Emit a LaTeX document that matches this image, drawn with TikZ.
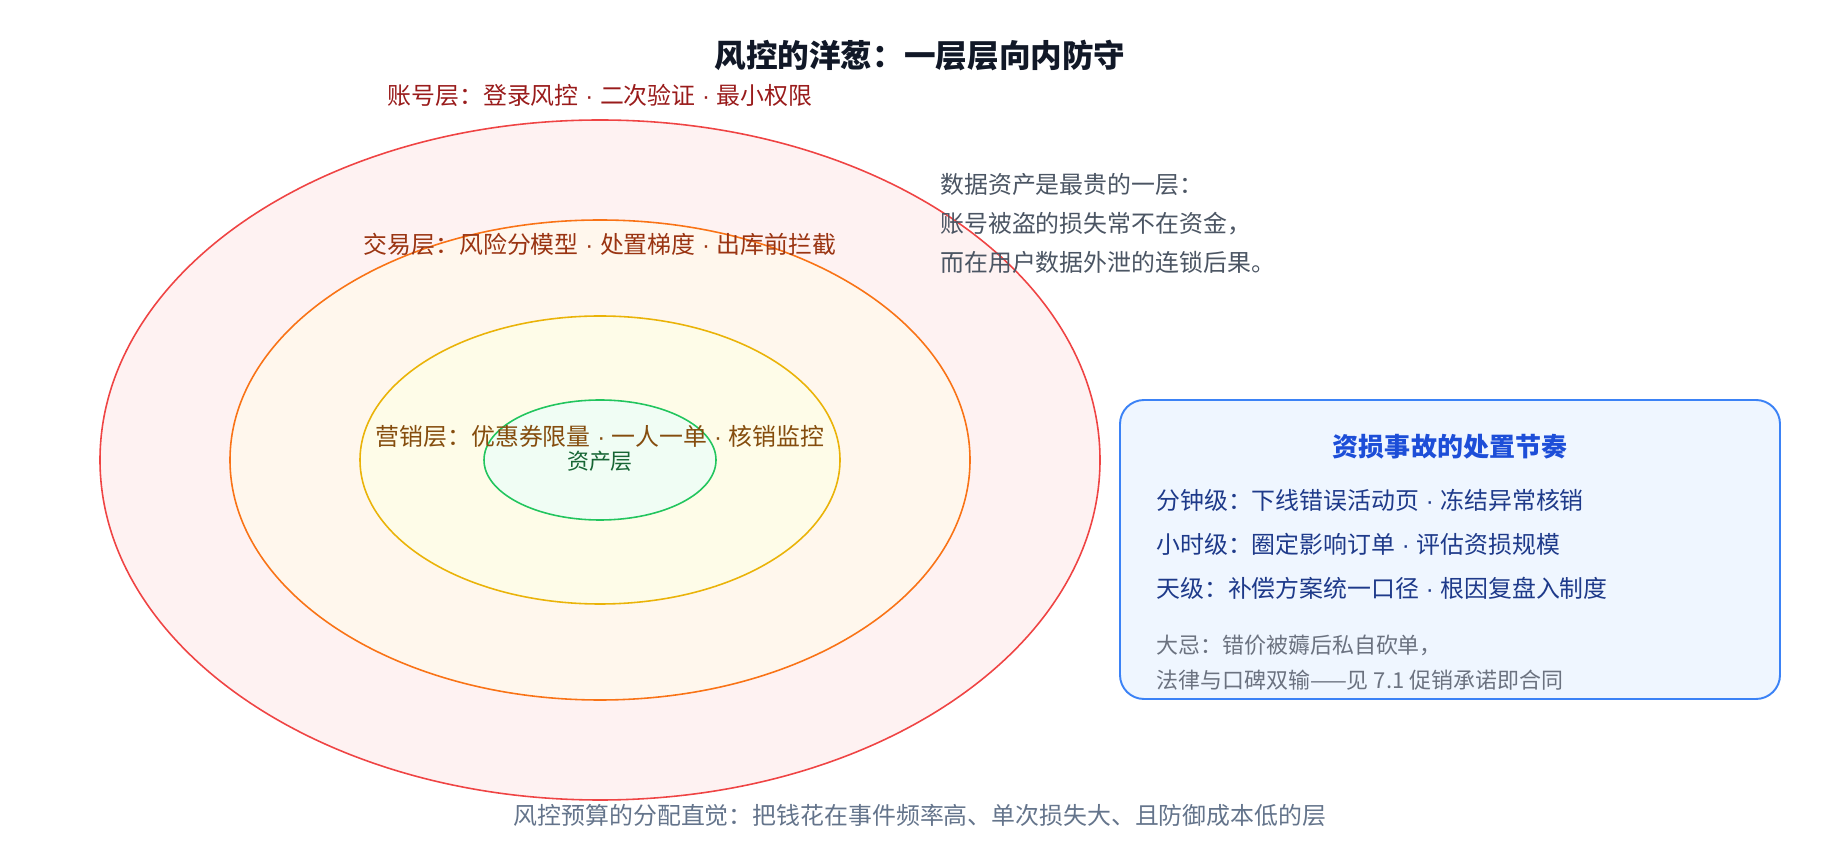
\documentclass[tikz,border=0pt]{standalone}
\usepackage{fontspec}
\setmainfont{Noto Sans CJK SC}
\newfontfamily\latinfont{Liberation Sans}
\usepackage{xcolor}
\usetikzlibrary{shapes.geometric, positioning}
\newcommand{\dotsep}{{\latinfont{} · }}
\definecolor{accountline}{HTML}{EF4444}
\definecolor{accountbg}{HTML}{FEF2F2}
\definecolor{accounttext}{HTML}{991B1B}
\definecolor{tradeline}{HTML}{F97316}
\definecolor{tradebg}{HTML}{FFF7ED}
\definecolor{tradetext}{HTML}{9A3412}
\definecolor{promoline}{HTML}{EAB308}
\definecolor{promobg}{HTML}{FEFCE8}
\definecolor{promotext}{HTML}{854D0E}
\definecolor{assetline}{HTML}{22C55E}
\definecolor{assetbg}{HTML}{F0FDF4}
\definecolor{assettext}{HTML}{166534}
\definecolor{boxline}{HTML}{3B82F6}
\definecolor{boxbg}{HTML}{EFF6FF}
\definecolor{boxtitle}{HTML}{1D4ED8}
\definecolor{boxtext}{HTML}{1E3A8A}
\definecolor{titlecol}{HTML}{111827}
\definecolor{notegray}{HTML}{4B5563}
\definecolor{mutedgray}{HTML}{6B7280}
\definecolor{slategray}{HTML}{64748B}

\begin{document}
\begin{tikzpicture}[
    layer/.style={ellipse, draw, line width=0.9pt, inner sep=0pt, outer sep=0pt},
    tag/.style={font=\fontsize{13.6}{16}\selectfont, inner sep=0pt},
    item/.style={tag, anchor=west, text=boxtext}
]
\useasboundingbox (0,0) rectangle (36.8,17.2);

% onion, outside in
\node[layer, draw=accountline, fill=accountbg, minimum width=20cm, minimum height=13.6cm] (account) at (12,8) {};
\node[layer, draw=tradeline, fill=tradebg, minimum width=14.8cm, minimum height=9.6cm] (trade) at (12,8) {};
\node[layer, draw=promoline, fill=promobg, minimum width=9.6cm, minimum height=5.76cm] (promo) at (12,8) {};
\node[layer, draw=assetline, fill=assetbg, minimum width=4.64cm, minimum height=2.4cm] (asset) at (12,8) {};

\node[font=\bfseries\fontsize{18}{22}\selectfont, text=titlecol] (title) at (18.4,16.08) {风控的洋葱：一层层向内防守};

\node[tag, text=accounttext] (accountlbl) at (12,15.3) {账号层：登录风控\dotsep 二次验证\dotsep 最小权限};
\node[tag, text=tradetext] (tradelbl) at (12,12.32) {交易层：风险分模型\dotsep 处置梯度\dotsep 出库前拦截};
\node[tag, text=promotext] (promolbl) at (12,8.47) {营销层：优惠券限量\dotsep 一人一单\dotsep 核销监控};
\node[tag, text=assettext, font=\fontsize{12.5}{15}\selectfont] (assetlbl) at (12,7.97) {资产层};

\node[tag, text=notegray, align=left, anchor=west, font=\fontsize{13.6}{22.2}\selectfont] (datanote) at (18.8,12.74)
    {数据资产是最贵的一层：\\账号被盗的损失常不在资金，\\而在用户数据外泄的连锁后果。};

% incident response box
\node[rectangle, rounded corners=0.48cm, draw=boxline, fill=boxbg, line width=1.1pt, minimum width=13.2cm, minimum height=5.98cm] (tempo) at (29,6.21) {};
\node[tag, text=boxtitle, font=\bfseries\fontsize{14.8}{18}\selectfont] (tempotitle) at (29,8.26) {资损事故的处置节奏};
\node[item] (minute) at (23.12,7.2) {分钟级：下线错误活动页\dotsep 冻结异常核销};
\node[item] (hour) at (23.12,6.32) {小时级：圈定影响订单\dotsep 评估资损规模};
\node[item] (day) at (23.12,5.44) {天级：补偿方案统一口径\dotsep 根因复盘入制度};
\node[tag, anchor=west, align=left, text=mutedgray, font=\fontsize{12.5}{19.9}\selectfont] (taboo) at (23.12,3.95)
    {大忌：错价被薅后私自砍单，\\法律与口碑双输——见 7.1 促销承诺即合同};

\node[tag, text=slategray] (budget) at (18.4,0.89) {风控预算的分配直觉：把钱花在事件频率高、单次损失大、且防御成本低的层};

\end{tikzpicture}
\end{document}
